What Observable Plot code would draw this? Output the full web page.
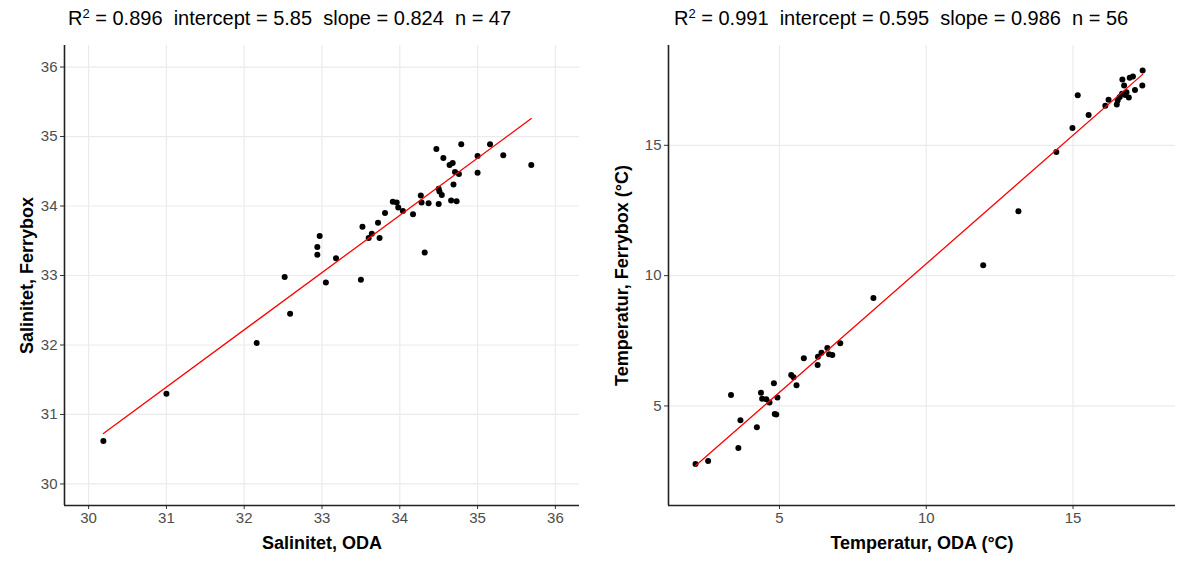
<!DOCTYPE html>
<html>
<head>
<meta charset="utf-8">
<script src="https://cdn.jsdelivr.net/npm/d3@7"></script>
<script src="https://cdn.jsdelivr.net/npm/@observablehq/plot@0.6"></script>
<style>
  body { margin: 0; background: #fff; }
  #wrap { position: relative; width: 1179px; height: 561px; overflow: hidden; font-family: "Liberation Sans", Arial, sans-serif; }
  .panel { position: absolute; top: 0; }
  .title { position: absolute; top: 8px; font-size: 20px; line-height: 20px; color: #000; white-space: pre; }
  .title sup { font-size: 13px; vertical-align: 7px; line-height: 0; }
</style>
</head>
<body>
<div id="wrap"></div>
<script>
// ---- Salinity panel data ----
const salODA = [30.19, 31.00, 32.16, 32.52, 32.59, 32.94, 32.94, 32.97, 33.18, 33.05,
  33.50, 33.52, 33.60, 33.64, 33.74, 33.72, 33.81, 33.91, 33.96, 33.98,
  34.04, 34.17, 34.27, 34.28, 34.32, 34.37, 34.47, 34.50, 34.51, 34.54,
  34.50, 34.56, 34.64, 34.68, 34.71, 34.76, 34.69, 34.66, 34.73, 34.79,
  35.00, 35.00, 35.16, 35.33, 35.69];
const salFerry = [30.62, 31.30, 32.03, 32.98, 32.45, 33.41, 33.30, 33.57, 33.25, 32.90,
  32.94, 33.70, 33.54, 33.60, 33.54, 33.76, 33.90, 34.06, 34.05, 33.98,
  33.93, 33.88, 34.15, 34.05, 33.33, 34.04, 34.82, 34.25, 34.21, 34.16,
  34.03, 34.69, 34.59, 34.62, 34.49, 34.46, 34.31, 34.08, 34.07, 34.89,
  34.72, 34.48, 34.89, 34.73, 34.59];
const salR2 = "0.896", salIntercept = 5.85, salSlope = 0.824, salN = 47;
const salTicks = [30, 31, 32, 33, 34, 35, 36];
const salDomain = [29.69, 36.31];

// ---- Temperature panel data ----
const tempODA = [2.14, 2.57, 3.60, 3.35, 3.67, 4.23, 4.37, 4.41, 4.55, 4.66,
  4.81, 4.84, 4.89, 4.93, 5.40, 5.48, 5.58, 5.83, 6.30, 6.31,
  6.43, 6.63, 6.69, 6.80, 7.07, 8.20, 11.94, 13.14, 14.43, 14.98,
  15.16, 15.53, 16.10, 16.21, 16.49, 16.52, 16.59, 16.67, 16.74, 16.68,
  16.78, 16.90, 16.93, 17.04, 17.11, 17.37, 17.36, 16.82];
const tempFerry = [2.77, 2.89, 3.39, 5.42, 4.45, 4.18, 5.51, 5.28, 5.26, 5.13,
  5.87, 4.69, 4.67, 5.32, 6.19, 6.10, 5.79, 6.83, 6.57, 6.89,
  7.04, 7.22, 6.98, 6.95, 7.41, 9.14, 10.40, 12.47, 14.74, 15.66,
  16.92, 16.16, 16.52, 16.75, 16.57, 16.72, 16.85, 16.98, 17.30, 17.53,
  16.93, 16.83, 17.59, 17.64, 17.12, 17.87, 17.30, 17.04];
const tempR2 = "0.991", tempIntercept = 0.595, tempSlope = 0.986, tempN = 56;
const tempTicks = [5, 10, 15];
const tempXDomain = [1.22, 18.49];
const tempYDomain = [1.18, 18.83];

function panel({xs, ys, intercept, slope, xTicks, yTicks, xDomain, yDomain, xLabel, yLabel,
                left, width, marginLeft, marginRight, yLabelDx, title, titleLeft}) {
  const pts = xs.map((x, i) => ({x, y: ys[i]}));
  const ext = d3.extent(xs);
  const fit = ext.map(x => ({x, y: intercept + slope * x}));
  const chart = Plot.plot({
    width, height: 561,
    marginLeft, marginRight, marginTop: 45, marginBottom: 56,
    x: {domain: xDomain},
    y: {domain: yDomain},
    style: {fontFamily: '"Liberation Sans", Arial, sans-serif', background: "transparent", overflow: "visible"},
    marks: [
      Plot.gridX(xTicks, {stroke: "#ebebeb", strokeOpacity: 1, strokeWidth: 1.2}),
      Plot.gridY(yTicks, {stroke: "#ebebeb", strokeOpacity: 1, strokeWidth: 1.2}),
      Plot.axisX(xTicks, {tickSize: 4, tickPadding: 3, stroke: "#333", fill: "#4d4d4d", fontSize: 15, label: null, tickFormat: d => String(d)}),
      Plot.axisY(yTicks, {tickSize: 4, tickPadding: 3, stroke: "#333", fill: "#4d4d4d", fontSize: 15, label: null, tickFormat: d => String(d)}),
      Plot.ruleX([xDomain[0]], {stroke: "#222", strokeWidth: 1.6}),
      Plot.ruleY([yDomain[0]], {stroke: "#222", strokeWidth: 1.6}),
      Plot.dot(pts, {x: "x", y: "y", r: 3, fill: "black", stroke: "none"}),
      Plot.line(fit, {x: "x", y: "y", stroke: "red", strokeWidth: 1.3}),
      Plot.text([xLabel], {frameAnchor: "bottom", dy: 43, fontSize: 18, fontWeight: "bold", fill: "black"}),
      Plot.text([yLabel], {frameAnchor: "left", dx: yLabelDx, rotate: -90, textAnchor: "middle", lineAnchor: "middle", fontSize: 18, fontWeight: "bold", fill: "black"})
    ]
  });
  const holder = document.createElement("div");
  holder.className = "panel";
  holder.style.left = left + "px";
  holder.appendChild(chart);
  document.getElementById("wrap").appendChild(holder);
  const t = document.createElement("div");
  t.className = "title";
  t.style.left = titleLeft + "px";
  t.innerHTML = title;
  document.getElementById("wrap").appendChild(t);
}

panel({
  xs: salODA, ys: salFerry, intercept: salIntercept, slope: salSlope,
  xTicks: salTicks, yTicks: salTicks, xDomain: salDomain, yDomain: salDomain,
  xLabel: "Salinitet, ODA", yLabel: "Salinitet, Ferrybox",
  left: 0, width: 590, marginLeft: 64, marginRight: 11, yLabelDx: -37,
  title: `R<sup>2</sup> = ${salR2}  intercept = ${salIntercept}  slope = ${salSlope}  n = ${salN}`,
  titleLeft: 68
});

panel({
  xs: tempODA, ys: tempFerry, intercept: tempIntercept, slope: tempSlope,
  xTicks: tempTicks, yTicks: tempTicks, xDomain: tempXDomain, yDomain: tempYDomain,
  xLabel: "Temperatur, ODA (°C)", yLabel: "Temperatur, Ferrybox (°C)",
  left: 590, width: 589, marginLeft: 78, marginRight: 4, yLabelDx: -46,
  title: `R<sup>2</sup> = ${tempR2}  intercept = ${tempIntercept}  slope = ${tempSlope}  n = ${tempN}`,
  titleLeft: 674
});
</script>
</body>
</html>
